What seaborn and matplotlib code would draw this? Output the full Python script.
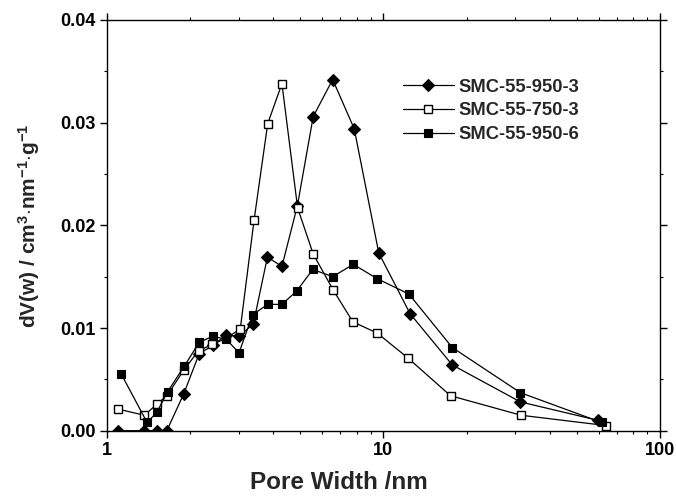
import matplotlib
matplotlib.use("Agg")
import matplotlib.pyplot as plt
import matplotlib.ticker as mticker
import seaborn as sns

# Pore size distribution data (pore width in nm, dV(w) in cm3/nm/g)
width_950_3 = [1.10, 1.37, 1.52, 1.65, 1.90, 2.16, 2.42, 2.70, 3.01, 3.39, 3.81,
               4.30, 4.89, 5.58, 6.56, 7.85, 9.63, 12.49, 17.75, 31.3, 59.8]
dv_950_3 = [0.0, 0.0, 0.0, 0.0, 0.0036, 0.0075, 0.0083, 0.0093, 0.0092, 0.0104, 0.0169,
            0.0160, 0.0219, 0.0306, 0.0342, 0.0294, 0.0173, 0.0114, 0.0064, 0.0028, 0.0010]

width_750_3 = [1.10, 1.37, 1.52, 1.65, 1.90, 2.15, 2.41, 2.70, 3.04, 3.41, 3.82,
               4.30, 4.90, 5.58, 6.59, 7.76, 9.51, 12.25, 17.5, 31.5, 63.8]
dv_750_3 = [0.0021, 0.0015, 0.0026, 0.0034, 0.0059, 0.0078, 0.0084, 0.0090, 0.0099, 0.0205, 0.0299,
            0.0338, 0.0217, 0.0172, 0.0137, 0.0106, 0.0095, 0.0071, 0.0034, 0.0015, 0.0005]

width_950_6 = [1.13, 1.40, 1.52, 1.66, 1.91, 2.16, 2.42, 2.70, 3.01, 3.37, 3.82,
               4.30, 4.86, 5.56, 6.56, 7.79, 9.51, 12.38, 17.75, 31.3, 61.5]
dv_950_6 = [0.0055, 0.0008, 0.0018, 0.0038, 0.0063, 0.0086, 0.0092, 0.0089, 0.0076, 0.0113, 0.0123,
            0.0123, 0.0136, 0.0157, 0.0150, 0.0162, 0.0148, 0.0133, 0.0081, 0.0037, 0.0008]

series_names = ["SMC-55-950-3", "SMC-55-750-3", "SMC-55-950-6"]
x_tick_values = [1, 10, 100]
x_tick_labels = ["1", "10", "100"]
y_tick_values = [0.00, 0.01, 0.02, 0.03, 0.04]
y_tick_labels = ["0.00", "0.01", "0.02", "0.03", "0.04"]

sns.set_theme(style="ticks")
plt.rcParams["font.family"] = ["Liberation Sans", "DejaVu Sans"]
plt.rcParams["font.weight"] = "bold"
plt.rcParams["mathtext.fontset"] = "custom"
plt.rcParams["mathtext.rm"] = "Liberation Sans:bold"
plt.rcParams["mathtext.bf"] = "Liberation Sans:bold"
plt.rcParams["mathtext.default"] = "rm"

fig = plt.figure(figsize=(6.76, 4.96), dpi=100)
ax = fig.add_axes([0.1578, 0.1317, 0.8185, 0.828])

line_kw = dict(color="black", linewidth=0.9, estimator=None, sort=False, ax=ax)
sns.lineplot(x=width_950_3, y=dv_950_3, marker="D", markersize=6.6,
             markerfacecolor="black", markeredgecolor="black", markeredgewidth=0.8,
             label=series_names[0], **line_kw)
sns.lineplot(x=width_750_3, y=dv_750_3, marker="s", markersize=6.2,
             markerfacecolor="white", markeredgecolor="black", markeredgewidth=1.0,
             label=series_names[1], **line_kw)
sns.lineplot(x=width_950_6, y=dv_950_6, marker="s", markersize=6.0,
             markerfacecolor="black", markeredgecolor="black", markeredgewidth=0.8,
             label=series_names[2], **line_kw)

ax.set_xscale("log")
ax.set_xlim(1, 100)
ax.set_ylim(0, 0.04)
ax.set_xticks(x_tick_values)
ax.set_xticklabels(x_tick_labels)
ax.xaxis.set_minor_locator(mticker.LogLocator(base=10, subs=range(2, 10)))
ax.xaxis.set_minor_formatter(mticker.NullFormatter())
ax.set_yticks(y_tick_values)
ax.set_yticklabels(y_tick_labels)
ax.yaxis.set_minor_locator(mticker.MultipleLocator(0.005))

for side in ["left", "right", "top", "bottom"]:
    ax.spines[side].set_visible(True)
    ax.spines[side].set_color("black")
    ax.spines[side].set_linewidth(1.0)

ax.tick_params(axis="both", which="major", direction="out", length=5, width=1.0,
               color="black", labelsize=13, labelcolor="black", pad=3)
ax.tick_params(axis="both", which="minor", direction="out", length=2.5, width=0.8, color="black")
ax.tick_params(axis="both", which="both", top=True, right=True)
ax.tick_params(axis="x", which="both", top=True, length=2)
ax.tick_params(axis="x", which="major", bottom=True, length=5)
ax.tick_params(axis="y", which="major", right=True)
for lab in ax.get_xticklabels() + ax.get_yticklabels():
    lab.set_fontweight("bold")

ax.set_xlabel("Pore Width /nm", fontsize=17.5, fontweight="bold")
ax.xaxis.set_label_coords(0.42, -0.098)
ax.set_ylabel(r"dV(w) / cm$^{3}$$\cdot$nm$^{-1}$$\cdot$g$^{-1}$", fontsize=15,
              fontweight="bold", labelpad=13)

leg = ax.legend(loc="upper left", bbox_to_anchor=(0.535, 0.857), frameon=False,
                fontsize=13.2, handlelength=2.8, handletextpad=0.25,
                labelspacing=0.36, borderpad=0, borderaxespad=0)
for t in leg.get_texts():
    t.set_fontweight("bold")

fig.savefig("out.png", dpi=100, facecolor="white")
